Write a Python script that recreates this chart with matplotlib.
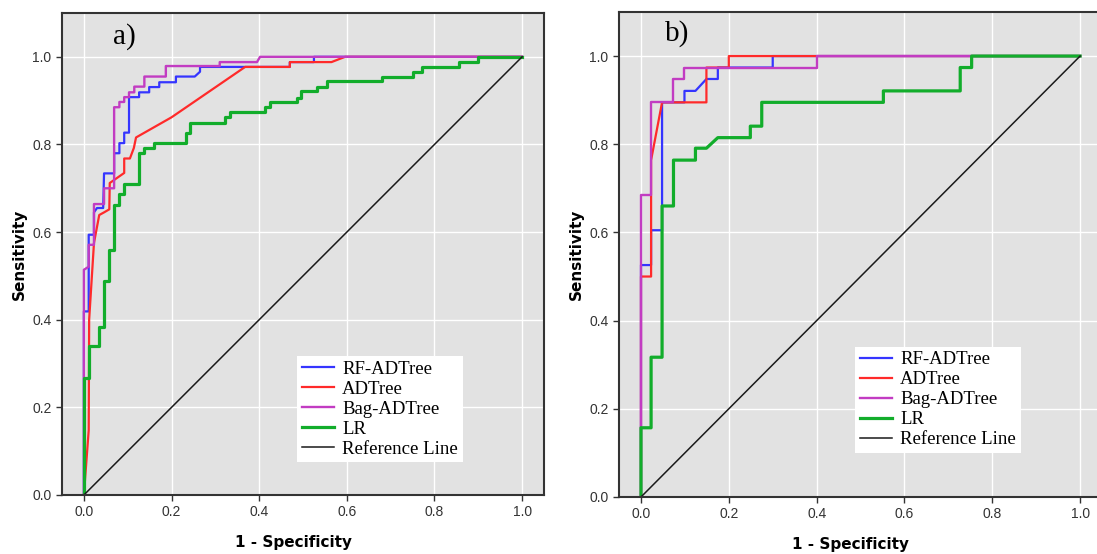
import matplotlib.pyplot as plt

# ROC points (1 - specificity, sensitivity)
a_rf_x = [0, 0, 0.011, 0.011, 0.023, 0.023, 0.030, 0.044, 0.046, 0.069, 0.069, 0.081, 0.081, 0.092, 0.092,
          0.103, 0.103, 0.126, 0.126, 0.149, 0.149, 0.172, 0.172, 0.210, 0.210, 0.253, 0.265, 0.265,
          0.470, 0.470, 0.525, 0.525, 1.0]
a_rf_y = [0, 0.419, 0.419, 0.594, 0.594, 0.645, 0.655, 0.655, 0.734, 0.734, 0.780, 0.780, 0.803, 0.803, 0.827,
          0.827, 0.908, 0.908, 0.919, 0.919, 0.931, 0.931, 0.942, 0.942, 0.955, 0.955, 0.966, 0.977,
          0.977, 0.988, 0.988, 1.0, 1.0]
a_ad_x = [0, 0.011, 0.012, 0.023, 0.035, 0.046, 0.058, 0.059, 0.092, 0.092, 0.105, 0.114, 0.119, 0.200,
          0.368, 0.470, 0.470, 0.565, 0.596, 1.0]
a_ad_y = [0, 0.148, 0.400, 0.575, 0.639, 0.645, 0.652, 0.712, 0.735, 0.768, 0.768, 0.792, 0.816, 0.862,
          0.977, 0.977, 0.988, 0.988, 1.0, 1.0]
a_bag_x = [0, 0, 0.011, 0.011, 0.023, 0.023, 0.046, 0.046, 0.069, 0.069, 0.081, 0.081, 0.092, 0.092, 0.103,
           0.103, 0.115, 0.115, 0.138, 0.138, 0.187, 0.187, 0.310, 0.310, 0.395, 0.402, 1.0]
a_bag_y = [0, 0.514, 0.521, 0.571, 0.571, 0.664, 0.664, 0.700, 0.700, 0.885, 0.885, 0.897, 0.897, 0.908, 0.908,
           0.919, 0.919, 0.932, 0.932, 0.955, 0.955, 0.979, 0.979, 0.988, 0.988, 1.0, 1.0]
a_lr_x = [0, 0, 0.011, 0.011, 0.035, 0.035, 0.046, 0.046, 0.058, 0.058, 0.069, 0.069, 0.081, 0.081, 0.092,
          0.092, 0.126, 0.126, 0.138, 0.138, 0.161, 0.161, 0.233, 0.233, 0.242, 0.242, 0.322, 0.322, 0.333,
          0.333, 0.413, 0.413, 0.425, 0.425, 0.486, 0.486, 0.496, 0.496, 0.532, 0.532, 0.554, 0.554, 0.680,
          0.680, 0.751, 0.751, 0.771, 0.771, 0.855, 0.855, 0.900, 0.900, 1.0]
a_lr_y = [0, 0.266, 0.266, 0.339, 0.339, 0.384, 0.384, 0.489, 0.489, 0.559, 0.559, 0.662, 0.662, 0.687, 0.687,
          0.710, 0.710, 0.780, 0.780, 0.791, 0.791, 0.803, 0.803, 0.827, 0.827, 0.850, 0.850, 0.862, 0.862,
          0.874, 0.874, 0.885, 0.885, 0.898, 0.898, 0.907, 0.907, 0.921, 0.921, 0.932, 0.932, 0.944, 0.944,
          0.955, 0.955, 0.965, 0.965, 0.977, 0.977, 0.989, 0.989, 1.0, 1.0]

b_rf_x = [0, 0, 0.023, 0.023, 0.048, 0.048, 0.099, 0.099, 0.124, 0.149, 0.175, 0.175, 0.300, 0.300, 1.0]
b_rf_y = [0, 0.526, 0.526, 0.605, 0.605, 0.895, 0.895, 0.921, 0.921, 0.948, 0.948, 0.974, 0.974, 1.0, 1.0]
b_ad_x = [0, 0, 0.023, 0.023, 0.048, 0.149, 0.149, 0.200, 0.200, 1.0]
b_ad_y = [0, 0.500, 0.500, 0.764, 0.895, 0.895, 0.974, 0.974, 1.0, 1.0]
b_bag_x = [0, 0, 0.023, 0.023, 0.074, 0.074, 0.097, 0.097, 0.401, 0.401, 1.0]
b_bag_y = [0, 0.685, 0.685, 0.895, 0.895, 0.948, 0.948, 0.974, 0.974, 1.0, 1.0]
b_lr_x = [0, 0, 0.023, 0.023, 0.048, 0.048, 0.074, 0.074, 0.124, 0.124, 0.149, 0.175, 0.249, 0.249, 0.275,
          0.275, 0.552, 0.552, 0.727, 0.727, 0.753, 0.753, 1.0]
b_lr_y = [0, 0.157, 0.157, 0.317, 0.317, 0.660, 0.660, 0.764, 0.764, 0.791, 0.791, 0.815, 0.815, 0.841, 0.841,
          0.895, 0.895, 0.921, 0.921, 0.974, 0.974, 1.0, 1.0]

ref_x = [0, 1]
ref_y = [0, 1]

labels = ['RF-ADTree', 'ADTree', 'Bag-ADTree', 'LR', 'Reference Line']
colors = ['#3535ff', '#ff2a2a', '#c23cc2', '#12ad2b', '#1a1a1a']
widths = [1.6, 1.6, 1.7, 2.3, 1.1]
ticks = [0.0, 0.2, 0.4, 0.6, 0.8, 1.0]
tick_labels = ['0.0', '0.2', '0.4', '0.6', '0.8', '1.0']


def draw_panel(ax, curves, tag, tag_xy, legend_xy):
    ax.set_facecolor('#e2e2e2')
    for (x, y), lab, c, w in zip(curves, labels, colors, widths):
        ax.plot(x, y, color=c, lw=w, label=lab)
    ax.set_xlim(-0.05, 1.05)
    ax.set_ylim(0, 1.1)
    ax.set_xticks(ticks)
    ax.set_xticklabels(tick_labels, family='Liberation Sans', fontsize=10, color='#333333')
    ax.set_yticks(ticks)
    ax.set_yticklabels(tick_labels, family='Liberation Sans', fontsize=10, color='#333333')
    ax.grid(True, color='white', lw=1.0)
    ax.set_axisbelow(True)
    ax.tick_params(direction='out', length=4, width=1, color='#333333')
    for s in ax.spines.values():
        s.set_color('#333333')
        s.set_linewidth(1.5)
    ax.set_xlabel('1 - Specificity', fontweight='bold', fontsize=11)
    ax.set_ylabel('Sensitivity', fontweight='bold', fontsize=11)
    ax.xaxis.set_label_coords(0.48, -0.083)
    ax.yaxis.set_label_coords(-0.073, 0.5)
    ax.text(tag_xy[0], tag_xy[1], tag, family='Liberation Serif', fontsize=21,
            ha='center', va='center')
    leg = ax.legend(loc='lower left', bbox_to_anchor=legend_xy, prop={'family': 'Liberation Serif', 'size': 13.5},
                    frameon=True, fancybox=False, framealpha=1, edgecolor='white', facecolor='white',
                    handlelength=1.7, handletextpad=0.45, labelspacing=0.15, borderpad=0.25,
                    borderaxespad=0)
    leg.get_frame().set_linewidth(0)


fig = plt.figure(figsize=(10.97, 5.54), dpi=100)
ax_a = fig.add_axes([0.0565, 0.1065, 0.4394, 0.870])
ax_b = fig.add_axes([0.5643, 0.1029, 0.4403, 0.8755])

draw_panel(ax_a, [(a_rf_x, a_rf_y), (a_ad_x, a_ad_y), (a_bag_x, a_bag_y), (a_lr_x, a_lr_y), (ref_x, ref_y)],
           'a)', (0.092, 1.047), (0.488, 0.068))
draw_panel(ax_b, [(b_rf_x, b_rf_y), (b_ad_x, b_ad_y), (b_bag_x, b_bag_y), (b_lr_x, b_lr_y), (ref_x, ref_y)],
           'b)', (0.083, 1.05), (0.489, 0.091))

fig.savefig('out.png', dpi=100)
